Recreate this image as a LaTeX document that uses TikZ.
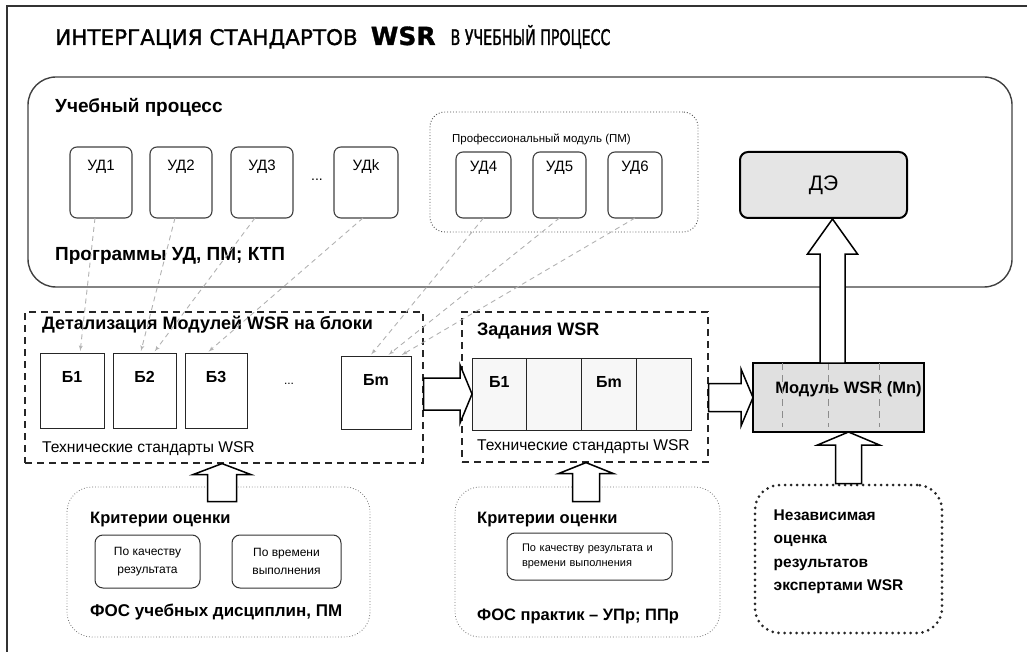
\documentclass[tikz,border=0pt]{standalone}
\usepackage{fontspec}
\setmainfont{Liberation Sans}
\newfontfamily\titlefont[FakeBold=1.2]{DejaVu Sans}
\newfontfamily\titlenarrow[FakeStretch=0.66,FakeBold=1.2]{DejaVu Sans}
\usetikzlibrary{arrows}
\usetikzlibrary{calc}
\usetikzlibrary{positioning}
\newcommand{\fsz}[1]{\fontsize{#1}{#1}\selectfont}
% hollow block arrows: tail, tip, shaft half width, head half width, head length
\newcommand{\upblock}[5]{%
	\draw[blockarrow] let \p1=(#1), \p2=(#2) in
		(\x1-#3pt,\y1) -- (\x1-#3pt,\y2-#5pt) -- (\x1-#4pt,\y2-#5pt) -- (\x1,\y2)
		-- (\x1+#4pt,\y2-#5pt) -- (\x1+#3pt,\y2-#5pt) -- (\x1+#3pt,\y1) -- cycle;}
\newcommand{\rightblock}[5]{%
	\draw[blockarrow] let \p1=(#1), \p2=(#2) in
		(\x1,\y2-#3pt) -- (\x2-#5pt,\y2-#3pt) -- (\x2-#5pt,\y2-#4pt) -- (\x2,\y2)
		-- (\x2-#5pt,\y2+#4pt) -- (\x2-#5pt,\y2+#3pt) -- (\x1,\y2+#3pt) -- cycle;}
\tikzset{
	txt/.style={anchor=base west, inner sep=0pt},
	procbox/.style={draw=black!75, line width=1.4pt, rounded corners=28pt},
	udbox/.style n args={2}{draw=black!75, line width=1.1pt, rounded corners=7pt, outer sep=0pt,
		label={[font=\fsz{15}, anchor=base, yshift=-#2]north:#1}},
	pmbox/.style={draw=black!70, dotted, line width=0.9pt, rounded corners=15pt},
	debox/.style={draw=black, fill=black!10, line width=2pt, rounded corners=8pt, font=\fsz{21}},
	detbox/.style={draw=black!85, dash pattern=on 7pt off 5pt, line width=1.2pt},
	blok/.style={draw=black!85, line width=0.9pt, outer sep=0pt,
		label={[font=\fsz{16}\bfseries, anchor=base, yshift=-29pt]north:#1}},
	cell/.style={draw=black!85, fill=black!3, line width=0.9pt, outer sep=0pt,
		minimum width=54.75pt, minimum height=72pt},
	modbox/.style={draw=black, fill=black!12, line width=1.5pt, outer sep=0pt},
	fosbox/.style={draw=black!55, dotted, line width=0.8pt, rounded corners=25pt},
	critbox/.style={draw=black!80, line width=1pt, rounded corners=8pt},
	indepbox/.style={draw=black!85, line width=3pt, dash pattern=on 0pt off 6pt,
		line cap=round, rounded corners=25pt},
	blockarrow/.style={draw=black, fill=white, line width=1.5pt, line join=miter},
	linkarrow/.style={draw=black!30, line width=0.9pt, dash pattern=on 5pt off 4pt,
		-latex', shorten >=2pt},
}
\begin{document}
\begin{tikzpicture}[x=1pt, y=-1pt]
	\useasboundingbox (0,0) rectangle (1027,652);
	\draw[line width=1.5pt, black!80] (7,652) -- (7,6) -- (1027,6);
	\node[txt, font=\titlefont\fsz{21.5}] (title) at (55,45)
		{ИНТЕРГАЦИЯ СТАНДАРТОВ\hspace{13pt}{\bfseries\fsz{25}WSR}\hspace{15pt}{\titlenarrow В УЧЕБНЫЙ ПРОЦЕСС}};
	% educational process
	\node[procbox, minimum width=984pt, minimum height=210pt] (proc) at (520,182) {};
	\node[txt, font=\fsz{19}\bfseries] (proctitle) at (55,113) {Учебный процесс};
	\node[txt, font=\fsz{19}\bfseries] (progtitle) at (55,260) {Программы УД, ПМ; КТП};
	\node[udbox={УД1}{24pt}, minimum width=62pt, minimum height=71pt] (ud1) at (101,182.5) {};
	\node[udbox={УД2}{24pt}, minimum width=62pt, minimum height=71pt] (ud2) at (181,182.5) {};
	\node[udbox={УД3}{24pt}, minimum width=62pt, minimum height=71pt] (ud3) at (262,182.5) {};
	\node[font=\fsz{14}] (uddots) at (317,180) {...};
	\node[udbox={УДk}{24pt}, minimum width=64pt, minimum height=71pt] (udk) at (366,182.5) {};
	\node[pmbox, minimum width=268pt, minimum height=120pt] (pm) at (564,172) {};
	\node[txt, font=\fsz{11.5}] (pmtitle) at (452,143) {Профессиональный модуль (ПМ)};
	\node[udbox={УД4}{20pt}, minimum width=55pt, minimum height=66pt] (ud4) at (483.5,185) {};
	\node[udbox={УД5}{20pt}, minimum width=53pt, minimum height=66pt] (ud5) at (559.5,185) {};
	\node[udbox={УД6}{20pt}, minimum width=54pt, minimum height=66pt] (ud6) at (635,185) {};
	\node[debox, minimum width=167pt, minimum height=66pt] (de) at (823.5,185) {ДЭ};
	% blocks of the WSR modules
	\node[detbox, minimum width=398pt, minimum height=151pt] (det) at (224,387.5) {};
	\node[txt, font=\fsz{18}\bfseries] (dettitle) at (42,329) {Детализация Модулей WSR на блоки};
	\node[blok=Б1, minimum width=64pt, minimum height=75pt] (b1) at (72,390.5) {};
	\node[blok=Б2, minimum width=63pt, minimum height=75pt] (b2) at (144.5,390.5) {};
	\node[blok=Б3, minimum width=62pt, minimum height=75pt] (b3) at (216,390.5) {};
	\node[font=\fsz{12}] (bdots) at (289,384) {...};
	\node[blok=Бm, minimum width=70pt, minimum height=73pt] (bm) at (376,392.5) {};
	\node[txt, font=\fsz{15.6}] (detcap) at (42,452) {Технические стандарты WSR};
	% WSR tasks
	\node[detbox, minimum width=246pt, minimum height=150pt] (zad) at (585,387) {};
	\node[txt, font=\fsz{18}\bfseries] (zadtitle) at (477,335) {Задания WSR};
	\node[cell, label={[font=\fsz{16}\bfseries, anchor=base, yshift=-29pt]north:Б1}] (c1) at (499.4,394) {};
	\node[cell, right=0pt of c1] (c2) {};
	\node[cell, right=0pt of c2, label={[font=\fsz{16}\bfseries, anchor=base, yshift=-29pt]north:Бm}] (c3) {};
	\node[cell, right=0pt of c3] (c4) {};
	\node[txt, font=\fsz{15.6}] (zadcap) at (477,450) {Технические стандарты WSR};
	% WSR module
	\node[modbox, minimum width=171pt, minimum height=69pt,
		label={[font=\fsz{16.5}\bfseries, xshift=10pt, yshift=8pt]center:Модуль WSR (Mn)}] (modul) at (838.5,397.5) {};
	\foreach \dx in {29,75,126}
		\draw[black!45, line width=0.9pt, dash pattern=on 7pt off 5pt]
			([xshift=\dx pt]modul.north west) -- ([xshift=\dx pt, yshift=5pt]modul.south west);
	% assessment funds
	\node[fosbox, minimum width=303pt, minimum height=150pt] (fos1) at (218.5,562) {};
	\node[txt, font=\fsz{16.5}\bfseries] (crit1) at (90,523) {Критерии оценки};
	\node[critbox, minimum width=105pt, minimum height=53pt, align=center, font=\fontsize{12}{18}\selectfont]
		(k1) at (147.5,561.5) {По качеству\\результата};
	\node[critbox, minimum width=109pt, minimum height=53pt, align=center, font=\fontsize{12}{18}\selectfont]
		(k2) at (286.5,561.5) {По времени\\выполнения};
	\node[txt, font=\fsz{17}\bfseries] (fos1cap) at (90,616) {ФОС учебных дисциплин, ПМ};
	\node[fosbox, minimum width=265pt, minimum height=150pt] (fos2) at (587.5,562) {};
	\node[txt, font=\fsz{16.5}\bfseries] (crit2) at (477,523) {Критерии оценки};
	\node[critbox, minimum width=165pt, minimum height=47pt, text width=135pt, align=left,
		font=\fontsize{11}{15}\selectfont] (k3) at (589.5,556.5) {По качеству результата и\\времени выполнения};
	\node[txt, font=\fsz{16.5}\bfseries] (fos2cap) at (477,620) {ФОС практик – УПр; ППр};
	\node[indepbox, minimum width=187pt, minimum height=148pt,
		label={[anchor=north west, xshift=20pt, yshift=-26pt, align=left, inner sep=0pt,
			font=\fontsize{15.5}{23.5}\selectfont\bfseries]north west:Независимая\\оценка\\результатов\\экспертами WSR}]
		(indep) at (848.5,559) {};
	% block arrows
	\upblock{[xshift=-6pt]modul.north}{de.south}{12.5}{25}{35}
	\upblock{indep.north}{modul.south}{13}{31}{13}
	\upblock{[xshift=3.5pt, yshift=-15pt]fos1.north}{det.south}{14.5}{29}{11}
	\upblock{[xshift=-1.5pt, yshift=-15pt]fos2.north}{zad.south}{13.5}{27.5}{11}
	\rightblock{det.east}{c1.west}{16}{29}{12}
	\rightblock{zad.east}{modul.west}{14}{28.5}{12}
	% links from disciplines to blocks
	\draw[linkarrow] ([xshift=-6pt]ud1.south) -- ([xshift=8pt]b1.north);
	\draw[linkarrow] ([xshift=-6pt]ud2.south) -- ([xshift=-4pt]b2.north);
	\draw[linkarrow] ([xshift=-7pt]ud3.south) -- ([xshift=9pt]b2.north);
	\draw[linkarrow] ([xshift=-3pt]udk.south) -- ([xshift=-9pt]b3.north);
	\draw[linkarrow] (ud4.south) -- ([xshift=-6pt]bm.north);
	\draw[linkarrow] (ud5.south) -- ([xshift=11pt]bm.north);
	\draw[linkarrow] (ud6.south) -- ([xshift=24pt]bm.north);
\end{tikzpicture}
\end{document}
